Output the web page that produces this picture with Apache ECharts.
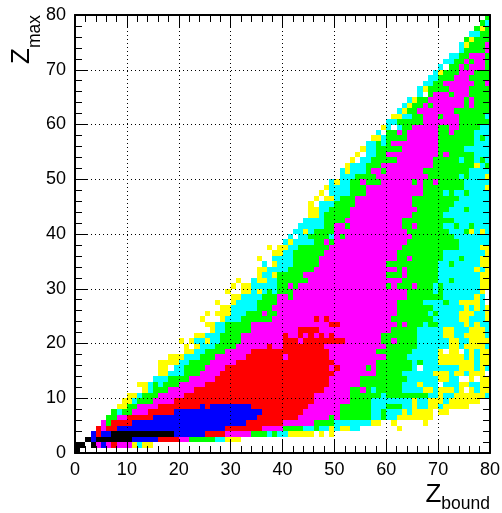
<!DOCTYPE html>
<html><head><meta charset="utf-8">
<style>html,body{margin:0;padding:0;background:#fff}#c{width:502px;height:513px}</style>
<script src="https://cdn.jsdelivr.net/npm/echarts@6/dist/echarts.min.js"></script>
</head><body><div id="c"></div>
<script>
const tickLabels = [0,10,20,30,40,50,60,70,80];
const minorTicks = [2,4,6,8,12,14,16,18,22,24,26,28,32,34,36,38,42,44,46,48,52,54,56,58,62,64,66,68,72,74,76,78];
const binCount = 80;
const levelCodes = "wycgmrbk";
const levelColors = ["#ffffff","#ffff00","#00ffff","#00ff00","#ff00ff","#ff0000","#0000ff","#000000"];
// One string per Zmax bin (from 0): "<first Zbound bin><level>" runs.
const zmaxRows = [
"0k 1w",
"0k 2w 3k 4m 5b 6m 7r 8m 11y 12c 13y 15w",
"2k 3b 4k 11b 16r 20m 22g 27c 29y 32w",
"3b 4r 5b 7k 19b 25r 29m 34g 37c 38g 39c 41y 46w 47y 48w 49y 50w",
"4r 5m 6r 8b 29r 36m 40g 44c 46g 47c 49y 50c 51y 53c 55w 62y 63w",
"5m 6g 7r 11b 33r 40m 46g 50c 57y 59w 61y 62w 67y 68w",
"6g 8m 10r 15b 35r 43m 49g 50m 51g 57c 59g 60c 62y 69w",
"7g 8c 9g 11m 14r 19b 36r 44m 51g 57c 59g 60c 63y 64c 65y 69w 70y 72w",
"8y 10g 12m 16r 24b 25r 26b 34r 45m 51g 57c 60g 63c 65y 66c 68y 70c 71y 76w",
"9y 11c 12g 15m 19r 46m 53g 57c 65y 66c 68y 71c 72y 78w",
"10y 12c 13g 16m 21r 46m 53g 59c 60g 68c 70y 71c 73y 79c",
"13y 14c 15g 18m 23r 48m 53g 55m 56g 57c 58g 63c 67y 69c 70y 73c 74y 75w 76y 77c 78y",
"12y 14c 15g 16c 17g 20m 25r 49m 55g 63c 66y 67c 70w 71c 74y 76c 78y",
"15c 18g 22m 27r 49m 55g 64c 70y 72c 74w 76y 77w 78y",
"16y 18c 21g 24m 28r 50m 58g 63c 69y 72c 73y 75c 76y 79w",
"16y 18w 19c 21g 25m 29r 49m 50r 51m 56g 57m 58g 65c 66w 67c 74y 77c 78y 79c",
"16y 20c 22g 26m 31r 50m 58g 65c 66g 67c 70y 77c 78y",
"18y 21c 24g 27m 33r 40m 41r 49m 60g 64c 70y 75c 76y 77c 78y",
"21y 23c 25g 29m 34r 49m 58g 65c 70y 71w 72y 74w 75c 76y 77c 78y",
"21y 22w 23y 24c 27g 31m 37r 38m 40r 48m 60g 66c 72y 74c 75y 79c",
"20y 21w 22y 23c 25y 26c 28g 32m 40r 43m 44r 52m 59g 61m 62g 66c 72y 74c 76y",
"23y 25c 28g 32m 40r 41m 43r 44m 45r 46m 47r 48m 49r 50m 59g 66c 71y 73c 75y 79c",
"26y 27c 29g 34m 43r 47m 61g 66c 71y 73c 76y 79c",
"25y 27c 29g 34m 49r 51m 62g 63m 64g 67c 68g 70c 75y 76c 77y 78c",
"24y 25w 28y 29c 32g 38m 46r 47m 48r 49m 61g 69c 74y 76c 79y",
"25y 26w 27y 30c 33g 36m 37g 39m 62g 68c 69g 70c 74y 77c 79y",
"28y 30c 35g 38m 62g 69c 75y 76c 77y 78c 79y",
"27y 28w 30y 31c 35g 39m 62g 67c 71g 72c 74y 78c 79w",
"30y 32c 36g 39m 41g 42m 64g 71c 77y 78c 79w",
"29y 30w 32y 34c 35y 36c 37g 38c 39g 42m 64g 69c 70g 71c 78y 79w",
"30y 31w 32y 34c 39g 41m 42g 43m 60g 61m 62g 65m 66g 69c 70g 71c 78y",
"31y 32w 34c 35y 37c 39g 45m 63g 70c 72g 73c 78y",
"35y 36c 38y 39g 44m 60g 63m 64g 70c 78y",
"35y 37c 41g 46m 62g 63m 64g 70c 77y 78c 79y",
"36c 37w 38y 39c 42g 47m 60g 70c 72g 73c 78y",
"35y 36w 38c 42g 47m 62g 64m 65g 71c 74g 75c 78y",
"38y 40c 42g 48m 62g 71c 79y",
"37y 38w 39y 41c 43g 49m 63g 74c 78y",
"40c 41y 42c 46g 48m 49g 50m 64g 74c",
"41c 42w 43c 45g 49c 50m 51g 52m 65g 73c",
"42c 44y 45c 46g 50m 64g 72c 75g 76y 77c 78y 79c",
"43c 48g 50m 52g 53m 63g 65m 66g 71c 73g 74c 76g 77c",
"44c 48g 52m 63g 73c",
"45y 47c 48g 53m 65g 71c",
"45y 47c 49g 53m 66g 72c 75g 76c",
"45y 46w 47c 50g 54m 65g 73c",
"46y 47w 48y 50c 51g 54m 65g 74c",
"47y 48w 49c 53g 56m 67g 71c 72g 73c 75g 76c",
"48y 49c 53g 56m 67g 75c 79y",
"49c 50y 51c 53g 55m 56g 59m 65g 66m 67g 69m 70g 75c",
"51c 54g 58m 68g 74c 75g 76c 79y",
"51c 52y 53c 56g 57m 59g 60m 67g 76c",
"52y 53c 56g 59m 69g 77y 78c 79g",
"53y 54w 55c 57g 62m 69g 74c 75g 77c 78g 79c",
"54y 55w 56c 58g 60m 70g 71m 72g 77c",
"55y 56c 58g 63m 70g 75c",
"56c 58g 59c 60g 61m 70g 77c",
"57y 59c 60g 64m 70g 77c 78g 79c",
"58c 59w 60g 62m 63g 64m 70g 72m 73g 77c",
"59y 60c 61w 62c 63g 65m 70g 72m 74g 78c",
"60c 62g 67m 74g",
"61y 63c 65g 67m 70g 71m 74g 79c",
"62c 63y 64g 66m 73g",
"63c 64y 65g 67m 68g 69m 75g 76m 77g",
"64c 65y 66g 68m 75g 76m 77g",
"66c 67w 68g 69m 72g 73m 76g",
"66c 67y 68g 72m 76g",
"67c 69g 71m 77g 79m",
"68c 70g 73m 76g",
"69c 70y 71g 74m 77g",
"70c 71w 72g 74m 75g 76m 79g",
"71c 73g 75m 76g 77m 79g",
"72c 74g 76m 79g",
"74c 75g 79m",
"74c 75y 76g 79m",
"75g 76y 77g",
"76c 78g",
"77g 78y 79g",
"78g 79c",
"79g"
];

const cells = [];
zmaxRows.forEach(function (row, zmax) {
  const runs = row.split(" ").map(function (r) {
    return { from: parseInt(r, 10), level: levelCodes.indexOf(r.slice(-1)) };
  });
  runs.forEach(function (run, i) {
    const to = i + 1 < runs.length ? runs[i + 1].from : binCount;
    if (run.level === 0) return;
    for (let z = run.from; z < to; z++) cells.push([z, zmax, run.level]);
  });
});
const tickData = tickLabels.map(function (v) { return [v, 13]; })
  .concat(minorTicks.map(function (v) { return [v, 7]; }));

const frame = { show: true, onZero: false, lineStyle: { color: "#000", width: 2 } };
function baseAxis(extra) {
  return Object.assign({
    type: "value", min: 0, max: binCount, interval: 10, z: 5, nameMoveOverlap: false,
    axisLine: frame,
    axisTick: { show: false }, minorTick: { show: false },
    splitLine: { show: false }, minorSplitLine: { show: false },
    axisLabel: { show: false }
  }, extra);
}
const gridLine = { show: true, lineStyle: { color: "#000", width: 1, type: [1, 3] } };
const labelStyle = { show: true, color: "#000", fontFamily: "Liberation Sans", fontSize: 18,
  hideOverlap: false, showMinLabel: true, showMaxLabel: true };
const richX = {
  z: { fontFamily: "Liberation Sans", fontSize: 26, color: "#000", verticalAlign: "top", lineHeight: 31 },
  s: { fontFamily: "Liberation Sans", fontSize: 17.5, color: "#000", verticalAlign: "bottom" }
};
const richY = {
  z: { fontFamily: "Liberation Sans", fontSize: 26, color: "#000", verticalAlign: "top", lineHeight: 35 },
  s: { fontFamily: "Liberation Sans", fontSize: 17.5, color: "#000", verticalAlign: "bottom" }
};
function snap(p) { const d = Math.round(p * 2); return (d + 1) % 2 === 0 ? d / 2 : (d + 1) / 2; }

const chart = echarts.init(document.getElementById("c"), null, { renderer: "canvas" });
chart.setOption({
  animation: false,
  backgroundColor: "#fff",
  grid: { left: 75, right: 12, top: 15, bottom: 60, containLabel: false, outerBoundsMode: "none" },
  xAxis: [
    baseAxis({ position: "bottom", splitLine: gridLine,
      axisLabel: Object.assign({ margin: 8 }, labelStyle),
      name: "{z|Z}{s|bound}", nameLocation: "end", nameGap: 0,
      nameTextStyle: { align: "right", verticalAlign: "top", padding: [29, 0, 0, 0], color: "#000", rich: richX } }),
    baseAxis({ position: "top" })
  ],
  yAxis: [
    baseAxis({ position: "left", splitLine: gridLine,
      axisLabel: Object.assign({ margin: 9 }, labelStyle),
      name: "{z|Z}{s|max}", nameLocation: "end", nameGap: 0, nameRotate: 90,
      nameTextStyle: { align: "right", verticalAlign: "bottom", padding: [0, 0, 31, 0], color: "#000", rich: richY } }),
    baseAxis({ position: "right" })
  ],
  series: [{
    type: "custom", coordinateSystem: "cartesian2d", xAxisIndex: 0, yAxisIndex: 0, z: 2, silent: true,
    encode: { x: 0, y: 1 }, data: cells, progressive: 0,
    renderItem: function (params, api) {
      const a = api.coord([api.value(0), api.value(1)]);
      const b = api.coord([api.value(0) + 1, api.value(1) + 1]);
      const x0 = Math.round(a[0]), x1 = Math.round(b[0]), y0 = Math.round(a[1]), y1 = Math.round(b[1]);
      return { type: "rect", shape: { x: x0, y: y1, width: x1 - x0, height: y0 - y1 },
        style: { fill: levelColors[api.value(2)], stroke: null } };
    }
  }, {
    type: "custom", coordinateSystem: "cartesian2d", xAxisIndex: 0, yAxisIndex: 0, z: 4, silent: true,
    encode: { x: 0, y: 0 }, data: tickData, clip: false,
    renderItem: function (params, api) {
      const v = api.value(0), len = api.value(1);
      const lo = api.coord([v, 0]), hi = api.coord([v, binCount]);
      const l = api.coord([0, v]), r = api.coord([binCount, v]);
      const px = snap(lo[0]), py = snap(l[1]);
      const stroke = { stroke: "#000", lineWidth: 1 };
      function seg(x1, y1, x2, y2) { return { type: "line", shape: { x1: x1, y1: y1, x2: x2, y2: y2 }, style: stroke }; }
      return { type: "group", children: [
        seg(px, lo[1], px, lo[1] - len),
        seg(px, hi[1], px, hi[1] + len),
        seg(l[0], py, l[0] + len, py),
        seg(r[0], py, r[0] - len, py)
      ] };
    }
  }]
});
</script></body></html>
